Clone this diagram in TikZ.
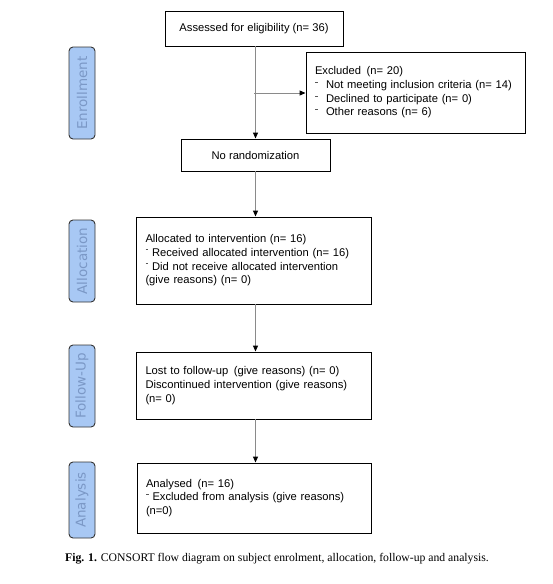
\documentclass[tikz,border=0pt]{standalone}
\usepackage{fontspec}
\setmainfont{Liberation Sans}
\newfontfamily\labelfont{DejaVu Sans}
\newfontfamily\capfont{Liberation Serif}
\usetikzlibrary{arrows.meta}
\definecolor{lblfill}{HTML}{A8C8F4}
\definecolor{lbltext}{HTML}{7B98C6}
\definecolor{linegray}{HTML}{8A8A8A}
\newcommand\dshA{\makebox[11pt][l]{\textcolor{black!65}{\raisebox{6pt}{\rule{3.2pt}{0.6pt}}}}}
\newcommand\dshB{\makebox[6.5pt][l]{\textcolor{black!65}{\raisebox{6.5pt}{\rule{2.8pt}{0.6pt}}}}}
\tikzset{
  box/.style={draw=black, line width=0.9pt, inner sep=0pt, font=\fontsize{11.2}{13.7}\selectfont},
  txtbox/.style={box, align=left},
  phase/.style={draw=black!80, fill=lblfill, rounded corners=4pt, line width=0.9pt,
     minimum height=26pt, inner sep=0pt, text=lbltext, font=\labelfont\fontsize{13.5}{15}\selectfont},
  flow/.style={draw=linegray, line width=1pt, -{Triangle[length=6pt,width=5pt,color=black]}},
}
\begin{document}
\begin{tikzpicture}[x=1pt,y=-1pt]
\useasboundingbox (0,0) rectangle (552,584);
% phase labels
\node[phase, minimum width=92pt, rotate=90] (enr) at (82,93) {Enrollment};
\node[phase, minimum width=82pt, rotate=90] (all) at (82,261) {Allocation};
\node[phase, minimum width=82pt, rotate=90] (fol) at (82,386) {Follow-Up};
\node[phase, minimum width=76pt, rotate=90] (ana) at (82,500) {Analysis};
% boxes
\node[box, minimum width=178pt, minimum height=35pt] (assess) at (254,28.5) {Assessed for eligibility (n= 36)};
\node[txtbox, minimum width=219pt, minimum height=81pt, text width=201pt] (excl) at (415.5,92.5)
  {Excluded\enspace(n= 20)\\
   \dshA Not meeting inclusion criteria (n= 14)\\
   \dshA Declined to participate (n= 0)\\
   \dshA Other reasons (n= 6)\\[8pt]};
\node[box, minimum width=149pt, minimum height=32pt] (norand) at (255.5,155) {No randomization};
\node[txtbox, minimum width=235pt, minimum height=87pt, text width=216pt] (alloc) at (253.5,260.5)
  {Allocated to intervention (n= 16)\\
   \dshB Received allocated intervention (n= 16)\\
   \dshB Did not receive allocated intervention\\
   (give reasons) (n= 0)};
\node[txtbox, minimum width=235pt, minimum height=67pt, text width=216pt] (follow) at (253.5,385.5)
  {Lost to follow-up\enspace(give reasons) (n= 0)\\
   Discontinued intervention (give reasons)\\
   (n= 0)};
\node[txtbox, minimum width=234pt, minimum height=70pt, text width=216pt] (analysis) at (254,498)
  {Analysed\enspace(n= 16)\\
   \dshB Excluded from analysis (give reasons)\\
   (n=0)};
% connectors
\coordinate (branch) at (254,93);
\draw[flow] (assess.south -| norand.north) -- (norand.north);
\draw[flow] (branch) -- (branch -| excl.west);
\draw[flow] (norand.south) -- (alloc.north -| norand.south);
\draw[flow] (alloc.south -| norand.south) -- (follow.north -| norand.south);
\draw[flow] (follow.south -| norand.south) -- (analysis.north -| norand.south);
% caption
\node[font=\capfont\fontsize{11.7}{13}\selectfont] (cap) at (277,559)
  {\textbf{Fig. 1.} CONSORT flow diagram on subject enrolment, allocation, follow-up and analysis.};
\end{tikzpicture}
\end{document}
